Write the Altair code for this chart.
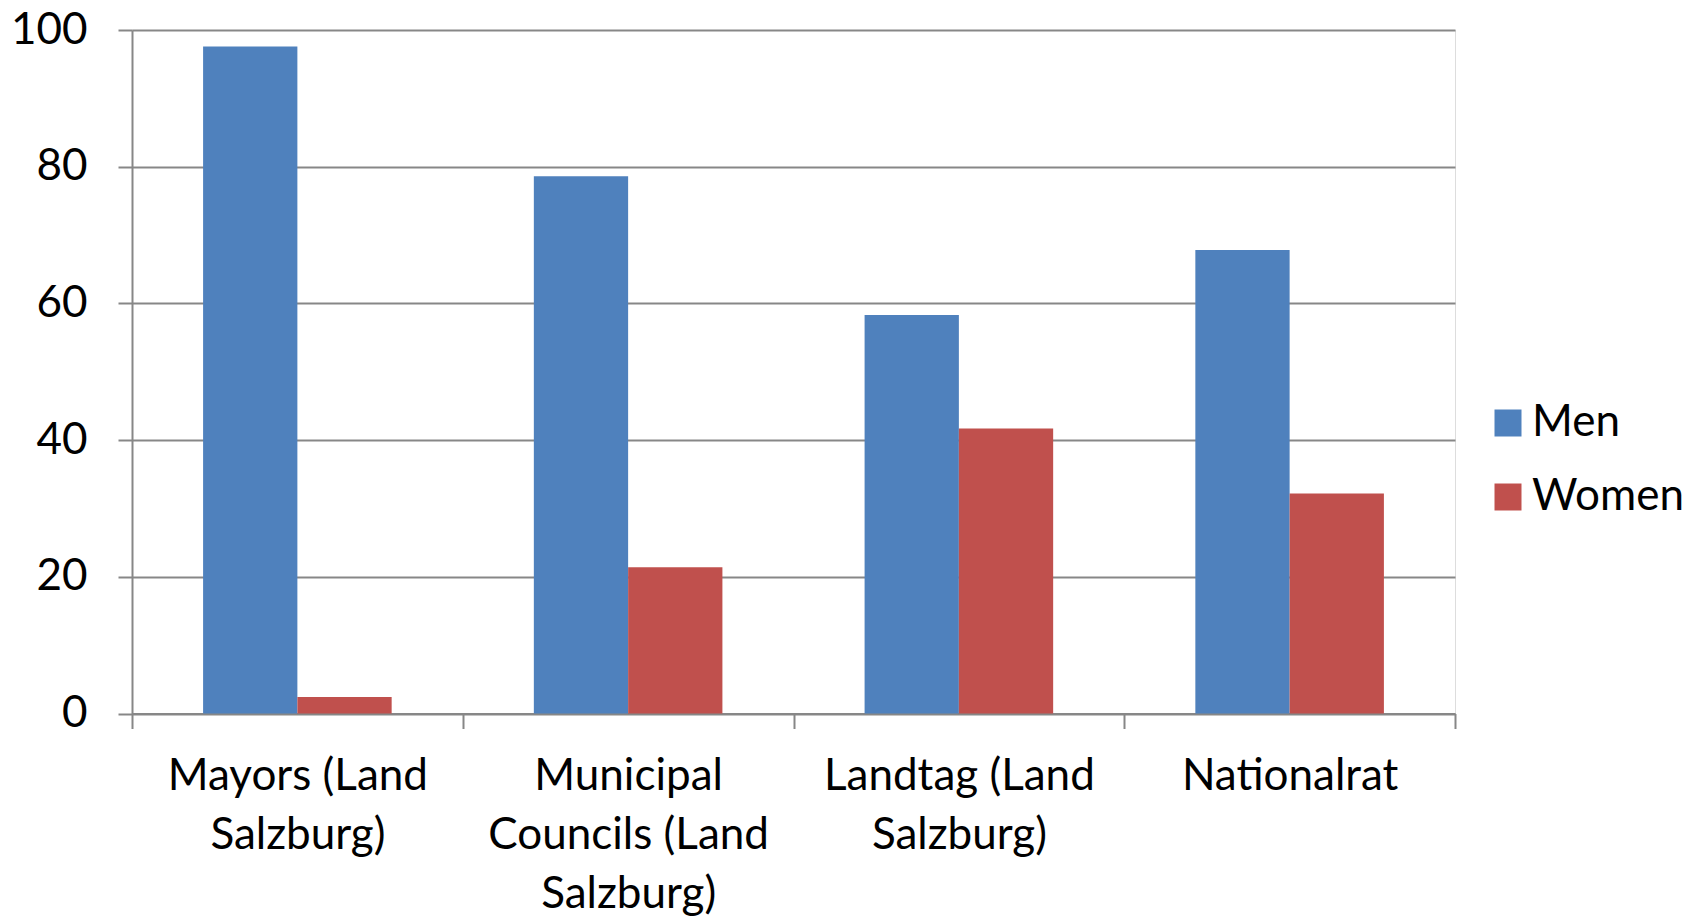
import altair as alt
import pandas as pd

# Share of seats held by men and women (%), by political body
categories = [
    "Mayors (Land\nSalzburg)",
    "Municipal\nCouncils (Land\nSalzburg)",
    "Landtag (Land\nSalzburg)",
    "Nationalrat",
]
men = [97.6, 78.6, 58.3, 67.8]
women = [2.4, 21.4, 41.7, 32.2]
series = ["Men", "Women"]
colors = ["#4F81BD", "#C0504D"]
y_ticks = [0, 20, 40, 60, 80, 100]

rows = []
for cat, m, w in zip(categories, men, women):
    rows.append({"body": cat, "gender": "Men", "share": m})
    rows.append({"body": cat, "gender": "Women", "share": w})
df = pd.DataFrame(rows)

FONT = "Lato"
FS = 44
GREY = "#878787"

chart = (
    alt.Chart(df)
    .mark_bar(stroke=None)
    .encode(
        x=alt.X(
            "body:N",
            sort=categories,
            scale=alt.Scale(paddingInner=0, paddingOuter=0),
            axis=alt.Axis(
                title=None,
                labelAngle=0,
                labelExpr="split(datum.label, '\\n')",
                labelFont=FONT,
                labelFontSize=FS,
                labelColor="#000000",
                labelLineHeight=59,
                labelPadding=26,
                labelBaseline="top",
                labelLimit=0,
                tickBand="extent",
                tickSize=15,
                tickColor=GREY,
                tickWidth=2,
                domainColor=GREY,
                domainWidth=2,
                grid=False,
            ),
        ),
        xOffset=alt.XOffset(
            "gender:N",
            sort=series,
            scale=alt.Scale(paddingInner=0, paddingOuter=0.754),
        ),
        y=alt.Y(
            "share:Q",
            scale=alt.Scale(domain=[0, 100], nice=False),
            axis=alt.Axis(
                title=None,
                values=y_ticks,
                labelFont=FONT,
                labelFontSize=FS,
                labelColor="#000000",
                labelPadding=31,
                tickSize=14,
                tickColor=GREY,
                tickWidth=2,
                domainColor=GREY,
                domainWidth=2,
                grid=True,
                gridColor=GREY,
                gridWidth=2,
            ),
        ),
        color=alt.Color(
            "gender:N",
            sort=series,
            scale=alt.Scale(domain=series, range=colors),
            legend=alt.Legend(
                title=None,
                orient="none",
                legendX=1354,
                legendY=371,
                padding=0,
                symbolType="square",
                symbolSize=729,
                symbolStrokeWidth=0,
                labelFont=FONT,
                labelFontSize=FS,
                labelColor="#000000",
                labelOffset=2,
                labelLimit=0,
                rowPadding=30,
            ),
        ),
    )
    .properties(
        width=1323,
        height=683.5,
        padding={"left": 132, "top": 30, "right": 244, "bottom": 203.5},
        autosize=alt.AutoSizeParams(type="none"),
    )
    .configure_view(stroke=None)
    .configure(background="#ffffff")
)

chart.save("out.html", embed_options={"renderer": "svg", "actions": False})
